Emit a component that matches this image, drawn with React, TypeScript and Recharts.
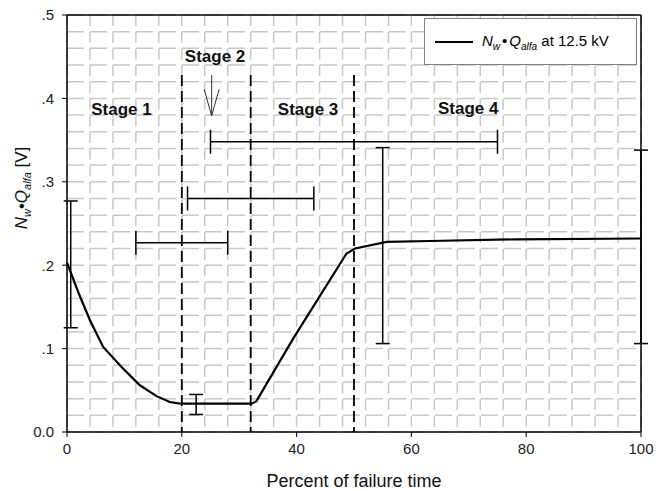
import {
  ComposedChart,
  Line,
  Scatter,
  ErrorBar,
  XAxis,
  YAxis,
  CartesianGrid,
  ReferenceLine,
  ReferenceDot,
  Legend,
  Label,
} from "recharts";

const FONT = "'Liberation Sans', Arial, sans-serif";

// N_w * Q_alfa curve over the failure time
const curveX = [0, 2, 4, 6.3, 9.5, 12.7, 15.6, 17.9, 19.7, 32.2, 33, 39.4, 48.7, 50.2, 55.7, 63.2, 78.3, 100];
const curveY = [0.203, 0.167, 0.134, 0.102, 0.078, 0.056, 0.043, 0.036, 0.034, 0.034, 0.037, 0.112, 0.214, 0.22, 0.228, 0.229, 0.231, 0.232];

// vertical spread bars: [below, above]
const vBarX = [0.65, 22.5, 55, 100];
const vBarY = [0.2, 0.033, 0.228, 0.232];
const vBarLow = [0.075, 0.012, 0.122, 0.126];
const vBarHigh = [0.077, 0.012, 0.113, 0.106];

// horizontal stage-span bars
const hBarX = [20, 32, 50];
const hBarY = [0.227, 0.28, 0.348];
const hBarErr = [8, 11, 25];

// stage boundaries and labels
const stageBounds = [20, 32, 50];
const stageTop = 0.428;
const stageNames = ["Stage 1", "Stage 2", "Stage 3", "Stage 4"];
const stageLabelX = [9.5, 25.8, 42, 69.9];
const stageLabelY = [0.387, 0.45, 0.387, 0.388];

// arrow pointing at stage 2
const arrowX = 25.2;
const arrowTop = 0.428;
const arrowTip = 0.379;
const arrowHeadY = 0.411;
const arrowHeadHalf = 1.3;

const xTicks = [0, 20, 40, 60, 80, 100];
const yTicks = [0, 0.1, 0.2, 0.3, 0.4, 0.5];
// fine grid: 25 cells each way (every 4 % and every .02 V)
const GRID_CELLS = 25;

const curve = curveX.map((x, i) => ({ x, y: curveY[i] }));
const vBars = vBarX.map((x, i) => ({ x, y: vBarY[i], err: [vBarLow[i], vBarHigh[i]] }));
const hBars = hBarX.map((x, i) => ({ x, y: hBarY[i], err: hBarErr[i] }));

const yFmt = (v: number) => (v === 0 ? "0.0" : "." + Math.round(v * 10));

const gridV = ({ offset }: any) =>
  Array.from({ length: GRID_CELLS + 1 }, (_, i) => offset.left + (i * offset.width) / GRID_CELLS);
const gridH = ({ offset }: any) =>
  Array.from({ length: GRID_CELLS + 1 }, (_, i) => offset.top + (i * offset.height) / GRID_CELLS);

function LegendBox() {
  return (
    <div
      style={{
        width: 213,
        height: 47,
        boxSizing: "border-box",
        border: "1px solid #808080",
        background: "#fff",
        display: "flex",
        alignItems: "center",
        fontFamily: FONT,
        fontSize: 15,
        color: "#000",
      }}
    >
      <span style={{ display: "inline-block", width: 38, height: 2, background: "#000", marginLeft: 10, marginRight: 9 }} />
      <span style={{ whiteSpace: "nowrap" }}>
        <i>N</i>
        <sub style={{ fontSize: 10 }}>
          <i>w</i>
        </sub>
        <span style={{ margin: "0 2px" }}>•</span>
        <i>Q</i>
        <sub style={{ fontSize: 10 }}>
          <i>alfa</i>
        </sub>{" "}
        at 12.5 kV
      </span>
    </div>
  );
}

function YTitle() {
  const x = 27;
  const y = 188;
  return (
    <text x={x} y={y} transform={`rotate(-90 ${x} ${y})`} textAnchor="middle" fontSize={17} fontFamily={FONT} fill="#111">
      <tspan fontStyle="italic">N</tspan>
      <tspan fontStyle="italic" fontSize={11} dy={4}>w</tspan>
      <tspan dy={-4}>•</tspan>
      <tspan fontStyle="italic">Q</tspan>
      <tspan fontStyle="italic" fontSize={11} dy={4}>alfa</tspan>
      <tspan dy={-4}> [V]</tspan>
    </text>
  );
}

export default function App() {
  return (
    <div style={{ position: "absolute", left: 0, top: 0, width: 657, height: 491, background: "#fff" }}>
      <ComposedChart width={657} height={491} margin={{ top: 15, right: 16, bottom: 0, left: 0 }}>
        <CartesianGrid vertical={false} horizontalCoordinatesGenerator={gridH} stroke="#c8c8c8" strokeWidth={1.5} strokeDasharray="17 6" />
        <CartesianGrid horizontal={false} verticalCoordinatesGenerator={gridV} stroke="#c8c8c8" strokeWidth={1.5} strokeDasharray="11 5.7" />

        <XAxis
          type="number"
          dataKey="x"
          domain={[0, 100]}
          ticks={xTicks}
          height={59}
          axisLine={{ stroke: "#000", strokeWidth: 1.5 }}
          tickLine={{ stroke: "#000" }}
          tickSize={5}
          tickMargin={6}
          tick={{ fontSize: 15, fontFamily: FONT, fill: "#222" }}
        >
          <Label value="Percent of failure time" position="insideBottom" offset={4} style={{ fontSize: 18, fontFamily: FONT, fill: "#111" }} />
        </XAxis>
        <YAxis
          type="number"
          domain={[0, 0.5]}
          ticks={yTicks}
          tickFormatter={yFmt}
          width={67}
          axisLine={{ stroke: "#000", strokeWidth: 1.5 }}
          tickLine={{ stroke: "#000" }}
          tickSize={5}
          tickMargin={8}
          tick={{ fontSize: 15, fontFamily: FONT, fill: "#222" }}
        >
          <Label content={() => <YTitle />} />
        </YAxis>

        <ReferenceLine y={0.5} stroke="#000" strokeWidth={1.5} />
        <ReferenceLine x={100} stroke="#000" strokeWidth={1.5} />

        {stageBounds.map((b) => (
          <ReferenceLine
            key={b}
            segment={[{ x: b, y: stageTop }, { x: b, y: 0 }]}
            stroke="#000"
            strokeWidth={1.8}
            strokeDasharray="11 5"
          />
        ))}

        <ReferenceLine segment={[{ x: arrowX, y: arrowTop }, { x: arrowX, y: arrowTip }]} stroke="#333" strokeWidth={1} />
        <ReferenceLine segment={[{ x: arrowX - arrowHeadHalf, y: arrowHeadY }, { x: arrowX, y: arrowTip }]} stroke="#333" strokeWidth={1} />
        <ReferenceLine segment={[{ x: arrowX + arrowHeadHalf, y: arrowHeadY }, { x: arrowX, y: arrowTip }]} stroke="#333" strokeWidth={1} />

        {stageNames.map((name, i) => (
          <ReferenceDot
            key={name}
            x={stageLabelX[i]}
            y={stageLabelY[i]}
            r={0}
            shape={(p: any) => (
              <text x={p.cx} y={p.cy} textAnchor="middle" dominantBaseline="central" fontSize={17} fontWeight="bold" fontFamily={FONT} fill="#111">
                {name}
              </text>
            )}
          />
        ))}

        <Scatter data={hBars} dataKey="y" shape={() => <g />} legendType="none" isAnimationActive={false}>
          <ErrorBar dataKey="err" direction="x" width={12} stroke="#000" strokeWidth={1.5} />
        </Scatter>
        <Scatter data={vBars} dataKey="y" shape={() => <g />} legendType="none" isAnimationActive={false}>
          <ErrorBar dataKey="err" direction="y" width={7} stroke="#000" strokeWidth={1.5} />
        </Scatter>

        <Line data={curve} dataKey="y" type="linear" stroke="#000" strokeWidth={2.2} dot={false} legendType="none" isAnimationActive={false} />

        <Legend
          layout="vertical"
          verticalAlign="middle"
          align="center"
          content={() => <LegendBox />}
          wrapperStyle={{ left: 424, top: 18, width: 213, height: 47 }}
        />
      </ComposedChart>
    </div>
  );
}
